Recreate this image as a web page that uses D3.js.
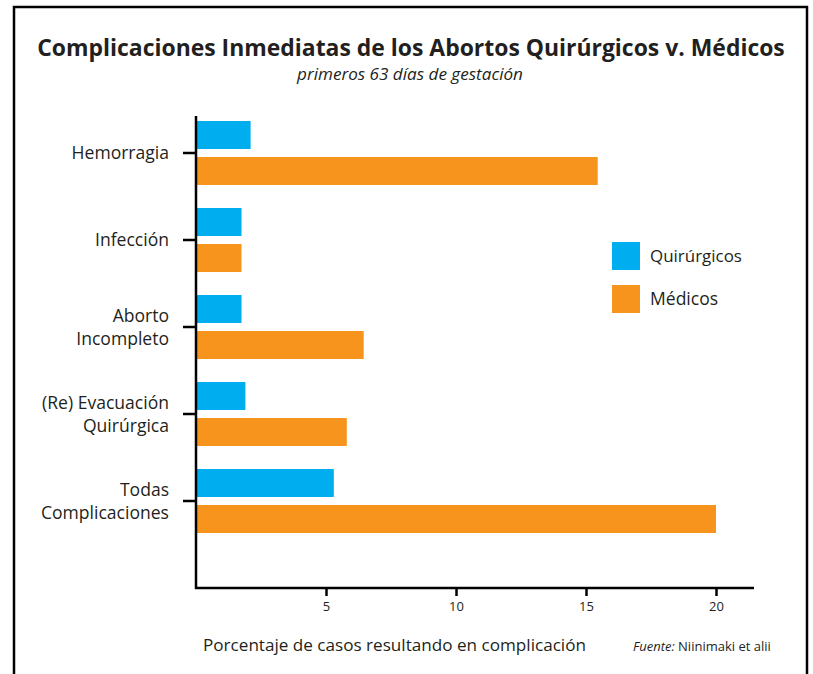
<!DOCTYPE html>
<html>
<head>
<meta charset="utf-8">
<script src="https://cdn.jsdelivr.net/npm/d3@7"></script>
<style>
  body { margin: 0; background: #fff; }
  text { font-family: "Open Sans", sans-serif; fill: #231f20; }
</style>
</head>
<body>
<svg id="chart" width="813" height="674"></svg>
<script>
const categories = [
  ["Hemorragia"],
  ["Infección"],
  ["Aborto", "Incompleto"],
  ["(Re) Evacuación", "Quirúrgica"],
  ["Todas", "Complicaciones"]
];
const series = ["Quirúrgicos", "Médicos"];
const colors = ["#00aeef", "#f7941d"];
const quirurgicos = [2.1, 1.75, 1.75, 1.9, 5.3];
const medicos = [15.45, 1.75, 6.45, 5.8, 20];
const xTicks = [5, 10, 15, 20];

const svg = d3.select("#chart");
const keys = categories.map(c => c.join(" "));

// scale a text so its width matches the one measured on the original
function fitWidth(sel, target) {
  const base = parseFloat(sel.style("font-size"));
  const w = sel.node().getComputedTextLength();
  sel.style("font-size", (base * target / w) + "px");
  return base * target / w;
}

// frame
svg.append("rect")
  .attr("x", 14).attr("y", 7)
  .attr("width", 793).attr("height", 700)
  .attr("fill", "none").attr("stroke", "#000").attr("stroke-width", 2.5);

// scales
const x = d3.scaleLinear().domain([0, 20]).range([196, 716]);
const y0 = d3.scaleBand().domain(keys).range([109.5, 544.5]);
const y1 = d3.scaleBand().domain(series).range([0, 64]).paddingInner(0.2222);
const color = d3.scaleOrdinal().domain(series).range(colors);

// title
const title = svg.append("text")
  .attr("x", 411).attr("y", 56)
  .attr("text-anchor", "middle")
  .style("font-size", "22px").style("font-weight", "bold")
  .text("Complicaciones Inmediatas de los Abortos Quirúrgicos v. Médicos");
fitWidth(title, 748);

const sub = svg.append("text")
  .attr("x", 410).attr("y", 80)
  .attr("text-anchor", "middle")
  .style("font-size", "15px").style("font-style", "italic")
  .text("primeros 63 días de gestación");
fitWidth(sub, 226);

// bars
const rows = keys.map((k, i) => ({key: k, values: [quirurgicos[i], medicos[i]]}));
const g = svg.append("g");
g.selectAll("g.grp").data(rows).join("g")
  .attr("class", "grp")
  .attr("transform", d => `translate(0,${y0(d.key) + (y0.bandwidth() - 64) / 2})`)
  .selectAll("rect")
  .data(d => d.values.map((v, j) => ({s: series[j], v: v})))
  .join("rect")
  .attr("x", x(0))
  .attr("y", d => y1(d.s))
  .attr("width", d => x(d.v) - x(0))
  .attr("height", y1.bandwidth())
  .attr("fill", d => color(d.s));

// y axis
const yAxis = svg.append("g")
  .attr("transform", "translate(196,0)")
  .call(d3.axisLeft(y0).tickSize(13).tickFormat(""));
yAxis.select(".domain").remove();
yAxis.selectAll(".tick line").attr("stroke", "#000").attr("stroke-width", 2.5);

// size category labels from the widest one
const probe = svg.append("text").style("font-size", "16px").text("Complicaciones");
const labelSize = fitWidth(probe, 128);
probe.remove();

categories.forEach((lines, i) => {
  const cy = y0(keys[i]) + y0.bandwidth() / 2;
  const t = svg.append("text")
    .attr("text-anchor", "end")
    .style("font-size", labelSize + "px");
  lines.forEach((ln, j) => {
    t.append("tspan")
      .attr("x", 169)
      .attr("y", cy + 6 + (j - (lines.length - 1) / 2) * 23)
      .text(ln);
  });
});

// x axis
const xAxis = svg.append("g")
  .attr("transform", "translate(0,588)")
  .call(d3.axisBottom(x).tickValues(xTicks).tickSize(8).tickPadding(6));
xAxis.select(".domain").remove();
xAxis.selectAll(".tick line").attr("stroke", "#000").attr("stroke-width", 2.5);
xAxis.selectAll(".tick text").style("font-size", "13px").style("font-family", "'Open Sans', sans-serif").attr("fill", "#231f20");

svg.append("line")
  .attr("x1", 196).attr("x2", 196).attr("y1", 116).attr("y2", 589)
  .attr("stroke", "#000").attr("stroke-width", 2.5);
svg.append("line")
  .attr("x1", 195).attr("x2", 754).attr("y1", 588).attr("y2", 588)
  .attr("stroke", "#000").attr("stroke-width", 2.5);

// axis title and source
const xTitle = svg.append("text")
  .attr("x", 203).attr("y", 651)
  .style("font-size", "17px")
  .text("Porcentaje de casos resultando en complicación");
fitWidth(xTitle, 383);

const src = svg.append("text")
  .attr("x", 633).attr("y", 651)
  .style("font-size", "12px");
src.append("tspan").style("font-style", "italic").text("Fuente:");
src.append("tspan").text(" Niinimaki et alii");
fitWidth(src, 138);

// legend
const legend = svg.append("g").attr("transform", "translate(612,242)");
series.forEach((s, i) => {
  const row = legend.append("g").attr("transform", `translate(0,${i * 43})`);
  row.append("rect").attr("width", 28).attr("height", 28).attr("fill", color(s));
  const lt = row.append("text").attr("x", 38).attr("y", 20).style("font-size", labelSize + "px").text(s);
  if (i === 0) fitWidth(lt, 92);
});
</script>
</body>
</html>
